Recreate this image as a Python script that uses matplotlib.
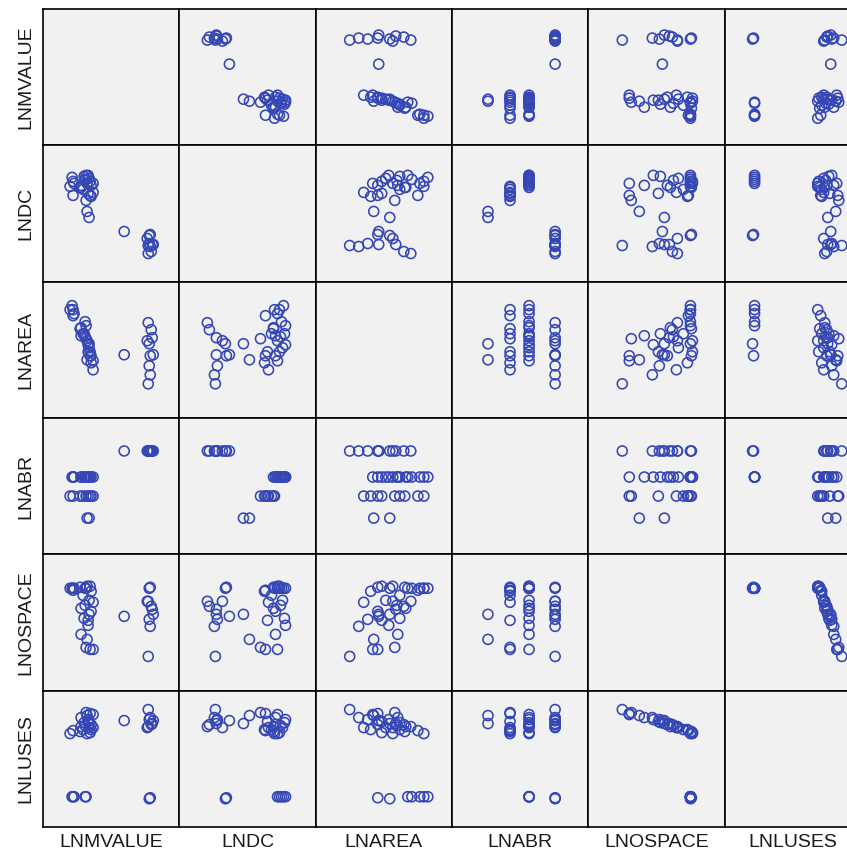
import matplotlib.pyplot as plt

plt.rcParams["font.family"] = ["Liberation Sans", "DejaVu Sans"]

# Variable names, in matrix order
VARS = ["LNMVALUE", "LNDC", "LNAREA", "LNABR", "LNOSPACE", "LNLUSES"]

# Observations (values on a common 0-136 display scale per variable)
lnmvalue = [107, 106, 105, 108, 109, 104, 110, 106, 107, 105,
            81,
            44, 46,
            50, 48, 47, 45, 43, 40, 37, 30, 27,
            29, 30, 31, 42, 43, 50, 48, 47, 46, 45, 44, 42, 41, 38, 38]
lndc = [47, 46, 28, 30, 37, 43, 37, 38, 35, 36,
        50,
        70, 64,
        89, 85, 86, 88, 81, 92, 94, 86, 95,
        104, 100, 98, 102, 106, 98, 96, 100, 103, 106, 98, 101, 105, 94, 96]
lnarea = [62, 74, 95, 88, 80, 77, 63, 52, 43, 34,
          63,
          58, 74,
          48, 55, 62, 66, 79, 84, 89, 102, 108,
          112, 108, 104, 96, 92, 57, 62, 66, 70, 73, 77, 81, 84, 90, 82]
lnabr = [103, 103, 103, 103, 103, 103, 103, 103, 103, 103,
         103,
         36, 36,
         58, 58, 58, 58, 58, 58, 58, 58, 58,
         77, 77, 77, 77, 77, 77, 77, 77, 77, 77, 77, 77, 77, 77, 77]
lnospace = [103, 102, 89, 84, 81, 89, 76, 71, 64, 34,
            74,
            51, 76,
            88, 99, 41, 70, 43, 95, 103, 100, 102,
            102, 102, 102, 102, 102, 41, 79, 104, 90, 65, 104, 85, 72, 82, 56]
lnluses = [29, 28, 100, 102, 103, 99, 106, 107, 109, 117,
           106,
           111, 103,
           99, 97, 113, 105, 114, 97, 95, 96, 93,
           30, 30, 30, 30, 30, 112, 102, 94, 99, 107, 93, 101, 104, 100, 109]

DATA = [lnmvalue, lndc, lnarea, lnabr, lnospace, lnluses]

W, H = 847, 857
fig = plt.figure(figsize=(W / 100, H / 100), dpi=100)
fig.patch.set_facecolor("white")

# grid geometry in pixels
x0, y0, cell = 43, 9, 136.3
n = len(VARS)

for i in range(n):          # row -> y variable
    for j in range(n):      # column -> x variable
        left = x0 + j * cell
        top = y0 + i * cell
        ax = fig.add_axes([left / W, 1 - (top + cell) / H, cell / W, cell / H])
        ax.set_facecolor("#f1f1f1")
        ax.set_xlim(0, 136)
        ax.set_ylim(0, 136)
        ax.set_xticks([])
        ax.set_yticks([])
        for sp in ax.spines.values():
            sp.set_color("black")
            sp.set_linewidth(1.2)
        if i != j:
            ax.scatter(DATA[j], DATA[i], s=52, facecolors="none",
                       edgecolors="#3546b5", linewidths=1.15)
        if j == 0:
            ax.set_ylabel(VARS[i], fontsize=14, color="#1a1a1a", labelpad=6)
        if i == n - 1:
            ax.set_xlabel(VARS[j], fontsize=14, color="#1a1a1a", labelpad=5)

fig.savefig("out.png", dpi=100)
